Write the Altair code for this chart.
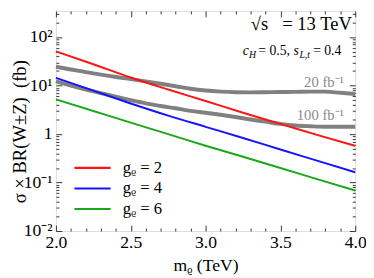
import altair as alt
import pandas as pd

# ---------------- data ----------------
mass_coarse = [2.0, 2.25, 2.5, 2.75, 3.0, 3.25, 3.5, 3.75, 4.0]
xsec_g2 = [50.7, 27.5, 14.7, 8.3, 4.8, 2.75, 1.62, 0.95, 0.57]
xsec_g4 = [14.4, 7.85, 4.27, 2.4, 1.41, 0.83, 0.48, 0.28, 0.163]
xsec_g6 = [5.2, 2.99, 1.72, 1.0, 0.575, 0.34, 0.20, 0.116, 0.0686]
series_labels = ["gᵨ = 2", "gᵨ = 4", "gᵨ = 6"]
series_colors = ["#ff1414", "#1414ff", "#1aa81a"]

mass_fine = [2.0, 2.1, 2.2, 2.3, 2.4, 2.5, 2.6, 2.7, 2.8, 2.9, 3.0,
             3.1, 3.2, 3.3, 3.4, 3.5, 3.6, 3.7, 3.8, 3.9, 4.0]
reach_20 = [24.4, 21.5, 19.0, 16.8, 15.0, 13.6, 12.2, 10.9, 9.7, 8.6, 7.9,
            7.5, 7.3, 7.25, 7.3, 7.35, 7.4, 7.5, 7.5, 7.1, 6.7]
reach_100 = [12.2, 10.0, 8.3, 7.0, 5.9, 5.0, 4.3, 3.8, 3.4, 3.0, 2.75,
             2.5, 2.25, 2.0, 1.8, 1.62, 1.5, 1.45, 1.42, 1.42, 1.42]
reach_labels = ["20 fb⁻¹", "100 fb⁻¹"]

x_label_values = [2.0, 2.5, 3.0, 3.5, 4.0]
x_tick_values = [2.0, 2.1, 2.2, 2.3, 2.4, 2.5, 2.6, 2.7, 2.8, 2.9, 3.0,
                 3.1, 3.2, 3.3, 3.4, 3.5, 3.6, 3.7, 3.8, 3.9, 4.0]
y_label_values = [0.01, 0.1, 1, 10, 100]
y_tick_values = [0.01, 0.02, 0.03, 0.04, 0.05, 0.06, 0.07, 0.08, 0.09,
                 0.1, 0.2, 0.3, 0.4, 0.5, 0.6, 0.7, 0.8, 0.9,
                 1, 2, 3, 4, 5, 6, 7, 8, 9,
                 10, 20, 30, 40, 50, 60, 70, 80, 90,
                 100, 200, 300]

NB = "\u00a0"
# annotation anchors (data coordinates)
energy_text = ["√s" + NB * 3 + "= 13 TeV"]
energy_pos = [3.978, 140]
reach_label_pos_m = [3.925, 3.925]
reach_label_pos_v = [9.25, 1.91]
coupling_pos = [3.248, 43.5]
coupling_pieces = [  # text, italic, size, dx, dy
    ("c", True, 14, 0, 0),
    ("H", True, 10, 6.5, 3),
    ("= 0.5,", False, 14, 16, 0),
    ("s", True, 14, 52, 0),
    ("L,t", True, 10, 58, 3),
    ("= 0.4", False, 14, 72, 0),
]
y_title = "σ" + NB + "×" + NB + "BR(W±Z)" + NB * 2 + "(fb)"

# ---------------- tables ----------------
rows = []
for lab, vals in zip(series_labels, [xsec_g2, xsec_g4, xsec_g6]):
    for m, v in zip(mass_coarse, vals):
        rows.append({"m": m, "v": v, "series": lab})
df_lines = pd.DataFrame(rows)

rows = []
for lab, vals in zip(reach_labels, [reach_20, reach_100]):
    for m, v in zip(mass_fine, vals):
        rows.append({"m": m, "v": v, "reach": lab})
df_reach = pd.DataFrame(rows)

FONT = "Liberation Serif"
W, H = 306, 225
xscale = alt.Scale(domain=[2, 4], nice=False, zero=False)
yscale = alt.Scale(type="log", domain=[0.01, 346], nice=False)

major_x = "abs(datum.value*2 - round(datum.value*2)) < 0.001"
major_y = "abs(log(datum.value)/LN10 - round(log(datum.value)/LN10)) < 0.001"


def tick_axis(orient, offset, values, test):
    return alt.Axis(orient=orient, offset=offset, values=values, labels=False,
                    domain=False, grid=False, ticks=True,
                    tickSize={"condition": {"test": test, "value": 6}, "value": 3},
                    tickColor="#333333", tickWidth=1, title=None)


# colored lines + label axes
lines = alt.Chart(df_lines).mark_line(strokeWidth=2, interpolate="monotone").encode(
    x=alt.X("m:Q", scale=xscale,
            axis=alt.Axis(orient="bottom", values=x_label_values, format=".1f",
                          ticks=False, tickSize=0, domain=False, grid=False,
                          labelFont=FONT, labelFontSize=18, labelColor="black",
                          labelPadding=3, labelFlush=False, labelOverlap=False,
                          title="mᵨ (TeV)", titleFont=FONT, titleFontSize=18,
                          titleFontWeight="normal", titleColor="black",
                          titleX=W / 2, titleY=40, titleBaseline="alphabetic",
                          titleAlign="center")),
    y=alt.Y("v:Q", scale=yscale,
            axis=alt.Axis(orient="left", values=y_label_values,
                          labelExpr="datum.value >= 99 ? '10²' : datum.value >= 9.9 ? '10¹' : datum.value >= 0.99 ? '1' : datum.value >= 0.099 ? '10⁻¹' : '10⁻²'",
                          ticks=False, tickSize=0, domain=False, grid=False,
                          labelFont=FONT, labelFontSize=18, labelColor="black",
                          labelPadding=4, labelFlush=False, labelOverlap=False,
                          title=y_title, titleFont=FONT, titleFontSize=19,
                          titleFontWeight="normal", titleColor="black",
                          titleX=-37, titleY=123, titleAngle=270,
                          titleBaseline="middle", titleAlign="center")),
    color=alt.Color("series:N",
                    scale=alt.Scale(domain=series_labels, range=series_colors),
                    legend=alt.Legend(orient="none", legendX=15.4, legendY=152,
                                      title=None, symbolType="M-1,0H6.4",
                                      symbolSize=100, symbolStrokeWidth=2.2,
                                      labelFont=FONT, labelFontSize=17,
                                      labelColor="black", labelOffset=36,
                                      rowPadding=3, padding=0)),
)

reach = alt.Chart(df_reach).mark_line(strokeWidth=4, color="#808080",
                                      interpolate="monotone").encode(
    x=alt.X("m:Q", scale=xscale, axis=None),
    y=alt.Y("v:Q", scale=yscale, axis=None),
    detail="reach:N",
)

ticks_a = alt.Chart(df_lines).mark_point(opacity=0).encode(
    x=alt.X("m:Q", scale=xscale, axis=tick_axis("top", -H, x_tick_values, major_x)),
    y=alt.Y("v:Q", scale=yscale, axis=tick_axis("right", -W, y_tick_values, major_y)),
)
ticks_b = alt.Chart(df_lines).mark_point(opacity=0).encode(
    x=alt.X("m:Q", scale=xscale, axis=tick_axis("bottom", -H, x_tick_values, major_x)),
    y=alt.Y("v:Q", scale=yscale, axis=tick_axis("left", -W, y_tick_values, major_y)),
)

texts = []
df_energy = pd.DataFrame({"m": [energy_pos[0]], "v": [energy_pos[1]], "t": energy_text})
texts.append(alt.Chart(df_energy).mark_text(font=FONT, fontSize=19, align="right",
                                            baseline="alphabetic", color="black").encode(
    x=alt.X("m:Q", scale=xscale, axis=None), y=alt.Y("v:Q", scale=yscale, axis=None),
    text="t:N"))

df_reach_lab = pd.DataFrame({"m": reach_label_pos_m, "v": reach_label_pos_v, "t": reach_labels})
texts.append(alt.Chart(df_reach_lab).mark_text(font=FONT, fontSize=15, align="right",
                                               baseline="alphabetic", color="#8a8a8a").encode(
    x=alt.X("m:Q", scale=xscale, axis=None), y=alt.Y("v:Q", scale=yscale, axis=None),
    text="t:N"))

for txt, ital, size, dx, dy in coupling_pieces:
    dfp = pd.DataFrame({"m": [coupling_pos[0]], "v": [coupling_pos[1]], "t": [txt]})
    texts.append(alt.Chart(dfp).mark_text(font=FONT, fontSize=size, align="left",
                                          baseline="alphabetic", color="black",
                                          fontStyle="italic" if ital else "normal",
                                          dx=dx, dy=dy).encode(
        x=alt.X("m:Q", scale=xscale, axis=None), y=alt.Y("v:Q", scale=yscale, axis=None),
        text="t:N"))

chart = alt.layer(ticks_a, ticks_b, reach, lines, *texts).resolve_axis(
    x="independent", y="independent"
).properties(
    width=W, height=H,
    padding={"left": 49, "top": 0, "right": 11, "bottom": 45},
    autosize=alt.AutoSizeParams(type="none"),
).configure_view(stroke="#333333", strokeWidth=1).configure(background="white")

chart.save("out.html", embed_options={"renderer": "svg", "actions": False})
